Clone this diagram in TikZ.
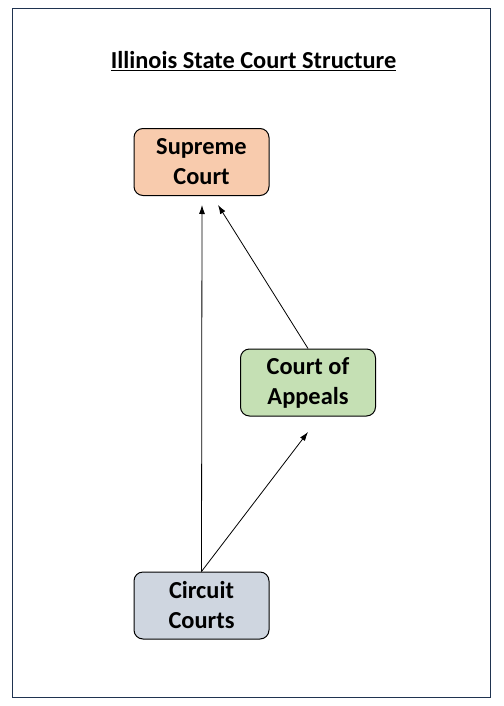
\documentclass[tikz,border=0pt]{standalone}
\usepackage{fontspec}
\setmainfont{Carlito}
\usetikzlibrary{arrows.meta}
\definecolor{frame}{HTML}{1F3350}
\definecolor{supc}{HTML}{F8CBAD}
\definecolor{appc}{HTML}{C5E0B4}
\definecolor{circ}{HTML}{CFD6E0}
\tikzset{
  court/.style={draw=black, line width=1pt, rounded corners=9pt, minimum width=135pt, minimum height=67pt, align=center, font=\fontsize{24.4}{30}\selectfont\bfseries, inner sep=0pt},
  conn/.style={draw=black, line width=0.8pt, -{Latex[length=9pt,width=6pt]}}
}
\begin{document}
\begin{tikzpicture}[x=1pt,y=-1pt]
\useasboundingbox (0,0) rectangle (503,706);
\draw[frame, line width=1pt] (12.5,8.5) rectangle (490.5,697.5);
\node[font=\fontsize{24.4}{28}\selectfont\bfseries] (title) at (253.5,61) {\underline{Illinois State Court Structure}};
\node[court, fill=supc] (sup) at (201.5,162) {Supreme\\Court};
\node[court, fill=appc] (app) at (308,382.5) {Court of\\Appeals};
\node[court, fill=circ] (cir) at (201.5,605.5) {Circuit\\Courts};
\coordinate (t1) at (202,205);
\coordinate (t2) at (218,205);
\coordinate (t3) at (308,432);
\draw[conn] (cir.north) -- (t1);
\draw[conn] (cir.north) -- (t3);
\draw[conn] (app.north) -- (t2);
\end{tikzpicture}
\end{document}
